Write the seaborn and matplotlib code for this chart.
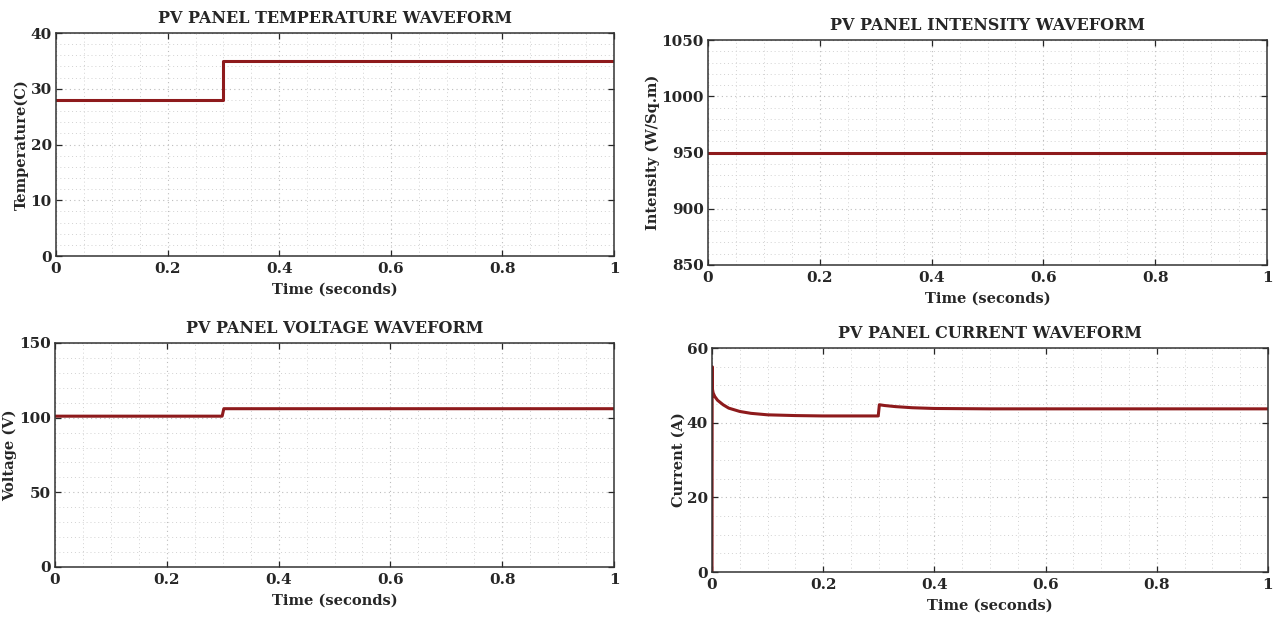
import numpy as np
import pandas as pd
import seaborn as sns
import matplotlib
matplotlib.use("Agg")
import matplotlib.pyplot as plt
from matplotlib.ticker import MultipleLocator, FormatStrFormatter

sns.set_theme(style="white")
plt.rcParams['font.family'] = ['DejaVu Serif']
plt.rcParams['font.weight'] = 'bold'

# Data
temp_t = [0.0, 0.3, 0.3, 1.0]
temp_v = [28, 28, 35, 35]

int_t = [0.0, 1.0]
int_v = [950, 950]

volt_t = [0.0, 0.299, 0.302, 1.0]
volt_v = [101, 101, 106, 106]

curr_t = [0.0, 0.0003, 0.0008, 0.002, 0.005, 0.01, 0.02, 0.03, 0.05, 0.07, 0.1,
          0.15, 0.2, 0.25, 0.299, 0.301, 0.31, 0.33, 0.36, 0.4, 0.5, 0.7, 1.0]
curr_v = [0, 55, 49, 48, 47, 46, 44.8, 43.9, 43.0, 42.5, 42.1,
          41.9, 41.8, 41.8, 41.8, 44.8, 44.6, 44.3, 44.0, 43.8, 43.7, 43.7, 43.7]

line_color = '#8E1A1C'

W, H = 1277, 619
fig = plt.figure(figsize=(W/100, H/100), dpi=100)

def px_axes(x0, y0, x1, y1):
    return fig.add_axes([x0/W, 1 - y1/H, (x1-x0)/W, (y1-y0)/H])

panels = [
    dict(box=(56, 33, 614, 256), t=temp_t, v=temp_v, ylim=(0, 40), ymaj=10, ymin=2,
         title='PV PANEL TEMPERATURE WAVEFORM', ylabel='Temperature(C)'),
    dict(box=(708, 40, 1267, 265), t=int_t, v=int_v, ylim=(850, 1050), ymaj=50, ymin=10,
         title='PV PANEL INTENSITY WAVEFORM', ylabel='Intensity (W/Sq.m)'),
    dict(box=(55, 343, 614, 567), t=volt_t, v=volt_v, ylim=(0, 150), ymaj=50, ymin=10,
         title='PV PANEL VOLTAGE WAVEFORM', ylabel='Voltage (V)'),
    dict(box=(712, 348, 1268, 572), t=curr_t, v=curr_v, ylim=(0, 60), ymaj=20, ymin=5,
         title='PV PANEL CURRENT WAVEFORM', ylabel='Current (A)'),
]

for p in panels:
    ax = px_axes(*p['box'])
    df = pd.DataFrame({'t': p['t'], 'v': p['v']})
    sns.lineplot(data=df, x='t', y='v', ax=ax, color=line_color, linewidth=2.2,
                 sort=False, estimator=None)
    ax.set_xlim(0, 1)
    ax.set_ylim(*p['ylim'])
    ax.xaxis.set_major_locator(MultipleLocator(0.2))
    ax.xaxis.set_minor_locator(MultipleLocator(0.05))
    ax.yaxis.set_major_locator(MultipleLocator(p['ymaj']))
    ax.yaxis.set_minor_locator(MultipleLocator(p['ymin']))
    ax.xaxis.set_major_formatter(FormatStrFormatter('%g'))
    ax.yaxis.set_major_formatter(FormatStrFormatter('%g'))
    ax.grid(which='major', color='#bdbdbd', linestyle=(0, (1, 3)), linewidth=0.8)
    ax.grid(which='minor', color='#d2d2d2', linestyle=(0, (1, 3)), linewidth=0.7)
    ax.tick_params(which='major', direction='in', length=4, width=0.9, top=True, right=True,
                   bottom=True, left=True, labelsize=11, colors='#262626', pad=4)
    ax.tick_params(axis='y', which='major', pad=3)
    ax.tick_params(which='minor', length=0)
    for lab in ax.get_xticklabels() + ax.get_yticklabels():
        lab.set_fontweight('bold')
    for s in ax.spines.values():
        s.set_visible(True)
        s.set_color('#333333')
        s.set_linewidth(1.1)
    ax.set_title(p['title'], fontsize=11.5, fontweight='bold', pad=7)
    ax.set_xlabel('Time (seconds)', fontsize=10.5, fontweight='bold', labelpad=5)
    ax.set_ylabel(p['ylabel'], fontsize=10.5, fontweight='bold', labelpad=1)

fig.savefig('out.png', dpi=100)
